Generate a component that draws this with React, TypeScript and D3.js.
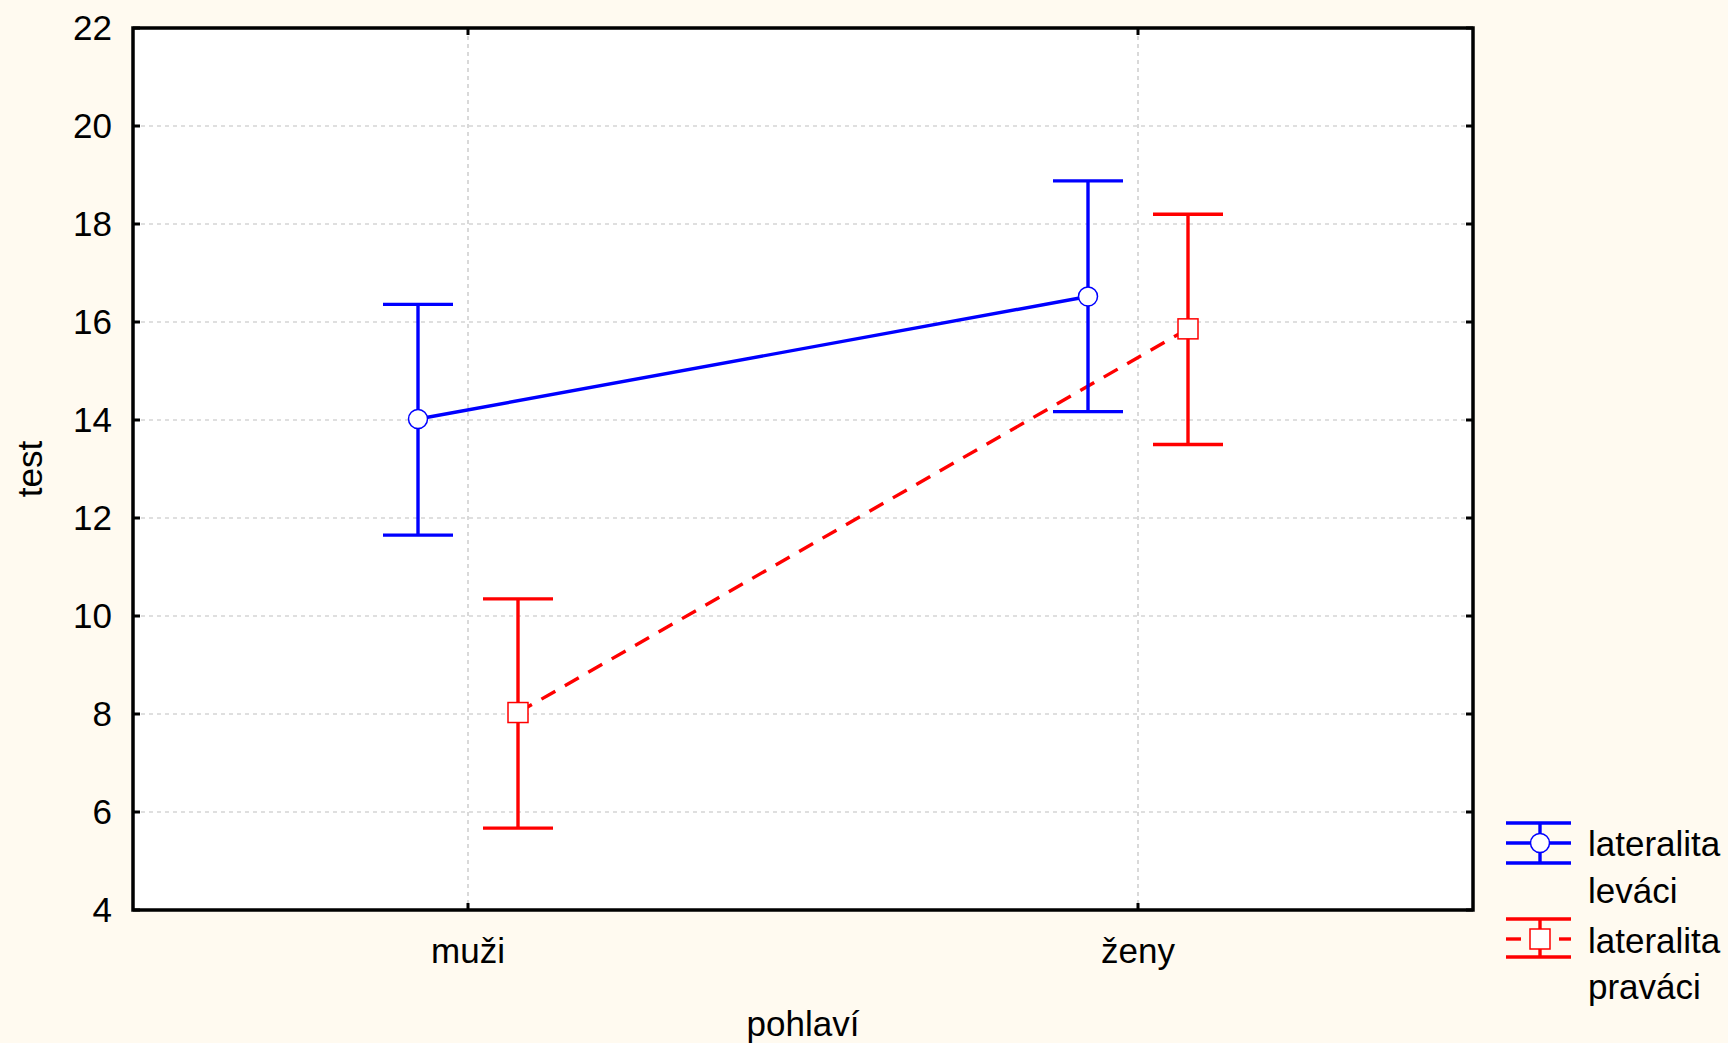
import React from "react";
import * as d3 from "d3";

// ---- data ----
const categories = ["muži", "ženy"];
const seriesNames = ["lateralita leváci", "lateralita praváci"];
const seriesColors = ["#0000ff", "#ff0000"];
const leftMeans = [14.02, 16.52];
const leftLower = [11.65, 14.17];
const leftUpper = [16.36, 18.88];
const rightMeans = [8.03, 15.86];
const rightLower = [5.67, 13.5];
const rightUpper = [10.35, 18.2];
const yTicks = [4, 6, 8, 10, 12, 14, 16, 18, 20, 22];
const xTitle = "pohlaví";
const yTitle = "test";
const legendLines = [
  ["lateralita", "leváci"],
  ["lateralita", "praváci"],
];

const W = 1728;
const H = 1043;
const M = { left: 133, right: 1473, top: 28, bottom: 910 };
const FONT = "'Liberation Sans', Arial, sans-serif";
const FS = 35;
const SW = 3.4;

export default function App() {
  const x = d3.scalePoint<string>().domain(categories).range([M.left, M.right]).padding(0.5);
  const off = d3.scalePoint<string>().domain(seriesNames).range([-50, 50]);
  const y = d3.scaleLinear().domain([4, 22]).range([M.bottom, M.top]);

  const series = [
    { name: seriesNames[0], color: seriesColors[0], means: leftMeans, lo: leftLower, hi: leftUpper, dash: undefined as string | undefined, marker: "circle" },
    { name: seriesNames[1], color: seriesColors[1], means: rightMeans, lo: rightLower, hi: rightUpper, dash: "16,11", marker: "square" },
  ];

  const line = d3.line<[number, number]>().x((d) => d[0]).y((d) => d[1]);
  const capHalf = 35;
  const tickLen = 7;

  return (
    <svg width={W} height={H} style={{ position: "fixed", left: 0, top: 0, display: "block" }} fontFamily={FONT}>
      <rect x={0} y={0} width={W} height={H} fill="#fffaf0" />
      <rect x={M.left} y={M.top} width={M.right - M.left} height={M.bottom - M.top} fill="#ffffff" />
      {/* gridlines */}
      {yTicks.filter((t) => t !== 4 && t !== 22).map((t) => (
        <line key={"gy" + t} x1={M.left} x2={M.right} y1={y(t)} y2={y(t)} stroke="#c0c0c0" strokeWidth={1.2} strokeDasharray="4,4" />
      ))}
      {categories.map((c) => (
        <line key={"gx" + c} x1={x(c)} x2={x(c)} y1={M.top} y2={M.bottom} stroke="#c0c0c0" strokeWidth={1.2} strokeDasharray="4,4" />
      ))}
      {/* series lines */}
      {series.map((s) => (
        <path
          key={"l" + s.name}
          d={line(categories.map((c, i) => [(x(c) as number) + (off(s.name) as number), y(s.means[i])]))!}
          fill="none"
          stroke={s.color}
          strokeWidth={SW}
          strokeDasharray={s.dash}
        />
      ))}
      {/* error bars */}
      {series.map((s) =>
        categories.map((c, i) => {
          const cx = (x(c) as number) + (off(s.name) as number);
          return (
            <g key={"e" + s.name + c} stroke={s.color} strokeWidth={SW}>
              <line x1={cx} x2={cx} y1={y(s.lo[i])} y2={y(s.hi[i])} />
              <line x1={cx - capHalf} x2={cx + capHalf} y1={y(s.hi[i])} y2={y(s.hi[i])} />
              <line x1={cx - capHalf} x2={cx + capHalf} y1={y(s.lo[i])} y2={y(s.lo[i])} />
            </g>
          );
        })
      )}
      {/* markers */}
      {series.map((s) =>
        categories.map((c, i) => {
          const cx = (x(c) as number) + (off(s.name) as number);
          const cy = y(s.means[i]);
          return s.marker === "circle" ? (
            <circle key={"m" + s.name + c} cx={cx} cy={cy} r={9.5} fill="#fff" stroke={s.color} strokeWidth={1.5} />
          ) : (
            <rect key={"m" + s.name + c} x={cx - 10} y={cy - 10} width={20} height={20} fill="#fff" stroke={s.color} strokeWidth={1.5} />
          );
        })
      )}
      {/* frame */}
      <rect x={M.left} y={M.top} width={M.right - M.left} height={M.bottom - M.top} fill="none" stroke="#000" strokeWidth={3.5} />
      {/* ticks */}
      {yTicks.map((t) => (
        <g key={"t" + t} stroke="#000" strokeWidth={3}>
          <line x1={M.left} x2={M.left + tickLen} y1={y(t)} y2={y(t)} />
          <line x1={M.right} x2={M.right - tickLen} y1={y(t)} y2={y(t)} />
        </g>
      ))}
      {categories.map((c) => (
        <g key={"tx" + c} stroke="#000" strokeWidth={3}>
          <line x1={x(c)} x2={x(c)} y1={M.bottom} y2={M.bottom - tickLen} />
          <line x1={x(c)} x2={x(c)} y1={M.top} y2={M.top + tickLen} />
        </g>
      ))}
      {/* tick labels */}
      {yTicks.map((t) => (
        <text key={"yl" + t} x={112} y={y(t)} dy="0.35em" textAnchor="end" fontSize={FS} fill="#000">
          {t}
        </text>
      ))}
      {categories.map((c) => (
        <text key={"xl" + c} x={x(c)} y={963} textAnchor="middle" fontSize={FS} fill="#000">
          {c}
        </text>
      ))}
      <text x={(M.left + M.right) / 2} y={1036} textAnchor="middle" fontSize={FS} fill="#000">
        {xTitle}
      </text>
      <text transform={`translate(42,${(M.top + M.bottom) / 2}) rotate(-90)`} textAnchor="middle" fontSize={FS} fill="#000">
        {yTitle}
      </text>
      {/* legend */}
      <g>
        <g stroke={seriesColors[0]} strokeWidth={SW}>
          <line x1={1506} x2={1571} y1={823} y2={823} />
          <line x1={1506} x2={1571} y1={843} y2={843} />
          <line x1={1506} x2={1571} y1={863} y2={863} />
          <line x1={1540} x2={1540} y1={823} y2={863} />
        </g>
        <circle cx={1540} cy={843} r={9.5} fill="#fff" stroke={seriesColors[0]} strokeWidth={1.5} />
        <text x={1588} y={856} fontSize={FS} fill="#000">{legendLines[0][0]}</text>
        <text x={1588} y={903} fontSize={FS} fill="#000">{legendLines[0][1]}</text>
        <g stroke={seriesColors[1]} strokeWidth={SW}>
          <line x1={1506} x2={1571} y1={919} y2={919} />
          <line x1={1506} x2={1521} y1={939} y2={939} />
          <line x1={1559} x2={1571} y1={939} y2={939} />
          <line x1={1506} x2={1571} y1={957} y2={957} />
          <line x1={1540} x2={1540} y1={919} y2={957} />
        </g>
        <rect x={1530} y={929} width={20} height={20} fill="#fff" stroke={seriesColors[1]} strokeWidth={1.5} />
        <text x={1588} y={953} fontSize={FS} fill="#000">{legendLines[1][0]}</text>
        <text x={1588} y={999} fontSize={FS} fill="#000">{legendLines[1][1]}</text>
      </g>
    </svg>
  );
}
